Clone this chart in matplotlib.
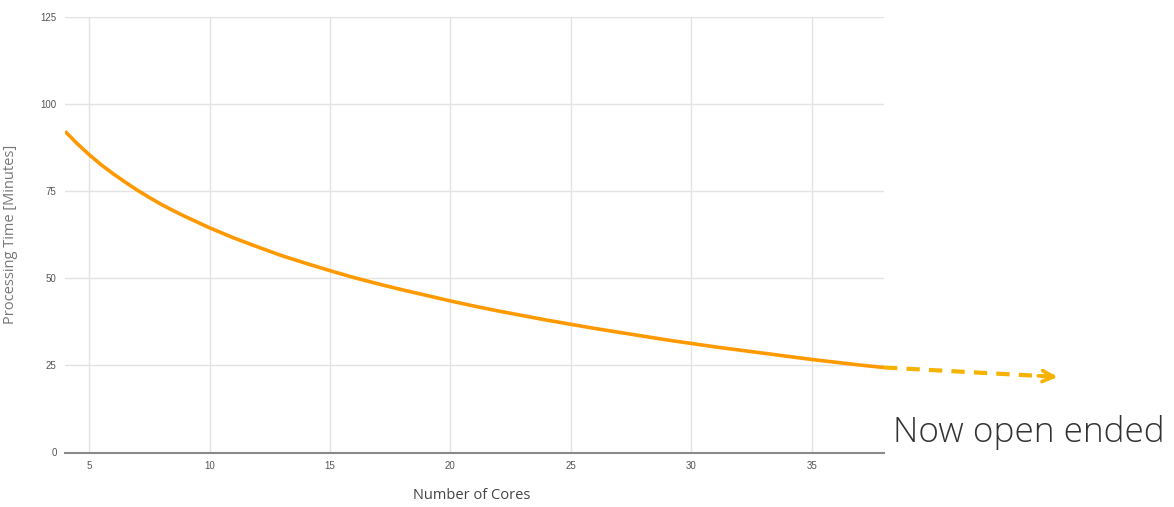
import numpy as np
import matplotlib.pyplot as plt

# processing time
cores = [4, 4.5, 5, 5.5, 6, 6.5, 7, 7.5, 8, 8.5, 9, 9.5, 10, 11, 12, 13,
         14, 15, 16, 17, 18, 19, 20, 21, 22, 23, 24, 25, 26, 27, 28, 29,
         30, 31, 32, 33, 34, 35, 36, 37, 38]
minutes = [92.2, 88.7, 85.5, 82.6, 80.0, 77.6, 75.3, 73.2, 71.2, 69.4,
           67.7, 66.1, 64.5, 61.6, 59.0, 56.5, 54.3, 52.2, 50.2, 48.4,
           46.7, 45.1, 43.5, 42.0, 40.6, 39.3, 38.0, 36.8, 35.6, 34.5,
           33.4, 32.3, 31.3, 30.3, 29.4, 28.5, 27.6, 26.7, 25.9, 25.1, 24.4]
x_ticks = [5, 10, 15, 20, 25, 30, 35]
y_ticks = [0, 25, 50, 75, 100, 125]
arrow_x = [38, 45.2]
arrow_y = [24.4, 21.7]

fig = plt.figure(figsize=(11.74, 5.07), dpi=100)
ax = fig.add_axes([65 / 1174, 1 - 452.5 / 507, (884 - 65) / 1174, (452.5 - 17) / 507])

ax.plot(cores, minutes, color="#ff9900", lw=2.6, solid_joinstyle="round",
        solid_capstyle="butt", zorder=3)

ax.set_xlim(4, 38)
ax.set_ylim(0, 125)
ax.set_xticks(x_ticks)
ax.set_yticks(y_ticks)
ax.grid(True, color="#e3e3e3", lw=1)
ax.set_axisbelow(True)
for side in ["top", "right", "left"]:
    ax.spines[side].set_visible(False)
ax.spines["bottom"].set_color("#8a8a8a")
ax.spines["bottom"].set_linewidth(1.5)
ax.tick_params(length=0, labelsize=7, colors="#555555", pad=6,
               labelfontfamily="Liberation Sans")

ax.set_xlabel("Number of Cores", fontsize=10.5, color="#444444", family="Open Sans")
ax.set_ylabel("Processing Time [Minutes]", fontsize=10.5, color="#777777", family="Open Sans")
ax.xaxis.set_label_coords(0.497, -0.082)
ax.yaxis.set_label_coords(-0.057, 0.5)

# open-ended extension: dashed line plus a chevron head
ax.plot(arrow_x, arrow_y, color="#f5b300", lw=3, dashes=(3.2, 2.2),
        clip_on=False, zorder=2)
ax.annotate("", xy=(arrow_x[1], arrow_y[1]),
            xytext=(arrow_x[1] - 0.8, arrow_y[1] + 0.3),
            annotation_clip=False,
            arrowprops=dict(arrowstyle="->,head_length=0.8,head_width=0.4",
                            lw=2.6, color="#f5b300", shrinkA=0, shrinkB=0))
fig.text(893 / 1174, 1 - 442 / 507, "Now open ended", fontsize=25.4,
         family="Open Sans", weight="light", color="#333333", va="baseline")

fig.savefig("out.png", dpi=100, facecolor="white")
